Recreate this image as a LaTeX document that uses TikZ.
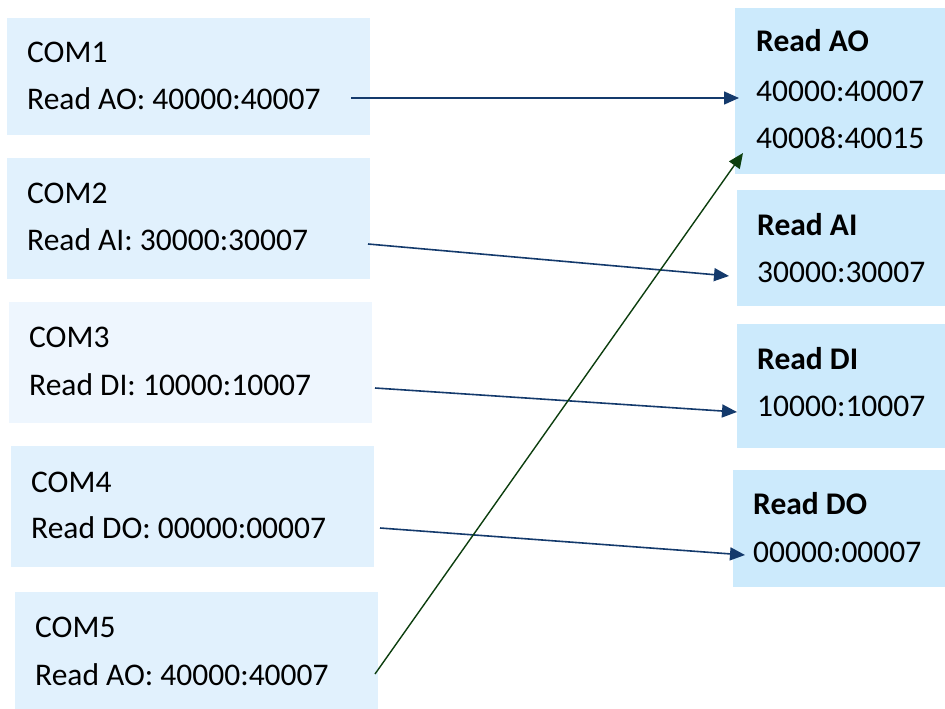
\documentclass[tikz,border=0pt]{standalone}
\usepackage{fontspec}
\setmainfont{Carlito}
\usetikzlibrary{arrows.meta}
\definecolor{leftbox}{RGB}{225,241,253}
\definecolor{leftpale}{RGB}{238,246,254}
\definecolor{rightbox}{RGB}{204,234,252}
\definecolor{arrblue}{RGB}{20,58,108}
\definecolor{arrgreen}{RGB}{12,62,14}
\tikzset{
  box/.style={rectangle, inner sep=0pt, anchor=north west},
  lbl/.style={inner sep=0pt, anchor=base west, font=\fontsize{31.5pt}{36pt}\selectfont},
  hdr/.style={lbl, font=\fontsize{31.5pt}{36pt}\selectfont\bfseries},
  link/.style={draw=arrblue, line width=1.6pt, -{Triangle[length=15pt,width=13pt]}},
  glink/.style={draw=arrgreen, line width=1.4pt, -{Triangle[length=15pt,width=13pt]}}
}
\begin{document}
\begin{tikzpicture}[x=1pt,y=-1pt]
\useasboundingbox (0,0) rectangle (945,709);
% left boxes
\node[box, fill=leftbox, minimum width=363pt, minimum height=117pt] (c1) at (7,18) {};
\node[box, fill=leftbox, minimum width=363pt, minimum height=121pt] (c2) at (7,158) {};
\node[box, fill=leftpale, minimum width=363pt, minimum height=121pt] (c3) at (9,302) {};
\node[box, fill=leftbox, minimum width=363pt, minimum height=121pt] (c4) at (11,446) {};
\node[box, fill=leftbox, minimum width=363pt, minimum height=117pt] (c5) at (15,592) {};
% right boxes
\node[box, fill=rightbox, minimum width=210pt, minimum height=166pt] (rao) at (735,8) {};
\node[box, fill=rightbox, minimum width=208pt, minimum height=116pt] (rai) at (737,190) {};
\node[box, fill=rightbox, minimum width=208pt, minimum height=124pt] (rdi) at (737,324) {};
\node[box, fill=rightbox, minimum width=212pt, minimum height=117pt] (rdo) at (733,470) {};
% left texts
\node[lbl] (t1a) at (27,63) {COM1};
\node[lbl] (t1b) at (27,110) {Read AO: 40000:40007};
\node[lbl] (t2a) at (27,203) {COM2};
\node[lbl] (t2b) at (27,250) {Read AI: 30000:30007};
\node[lbl] (t3a) at (29,347) {COM3};
\node[lbl] (t3b) at (29,395) {Read DI: 10000:10007};
\node[lbl] (t4a) at (31,492) {COM4};
\node[lbl] (t4b) at (31,538) {Read DO: 00000:00007};
\node[lbl] (t5a) at (35,637) {COM5};
\node[lbl] (t5b) at (35,685) {Read AO: 40000:40007};
% right texts
\node[hdr] (h1) at (756,52) {Read AO};
\node[lbl] (h1a) at (756,101) {40000:40007};
\node[lbl] (h1b) at (756,148) {40008:40015};
\node[hdr] (h2) at (757,235) {Read AI};
\node[lbl] (h2a) at (757,282) {30000:30007};
\node[hdr] (h3) at (757,369) {Read DI};
\node[lbl] (h3a) at (757,416) {10000:10007};
\node[hdr] (h4) at (753,514) {Read DO};
\node[lbl] (h4a) at (753,562) {00000:00007};
% connector end points
\coordinate (s1) at (351,98);
\coordinate (e1) at (739,98);
\coordinate (s2) at (368,244);
\coordinate (e2) at (729,276);
\coordinate (s3) at (375,388);
\coordinate (e3) at (737,412);
\coordinate (s4) at (380,528);
\coordinate (e4) at (745,555);
\coordinate (s5) at (375,674);
\coordinate (e5) at (743,153);
\draw[link] (s1) -- (e1);
\draw[link] (s2) -- (e2);
\draw[link] (s3) -- (e3);
\draw[link] (s4) -- (e4);
\draw[glink] (s5) -- (e5);
\end{tikzpicture}
\end{document}
